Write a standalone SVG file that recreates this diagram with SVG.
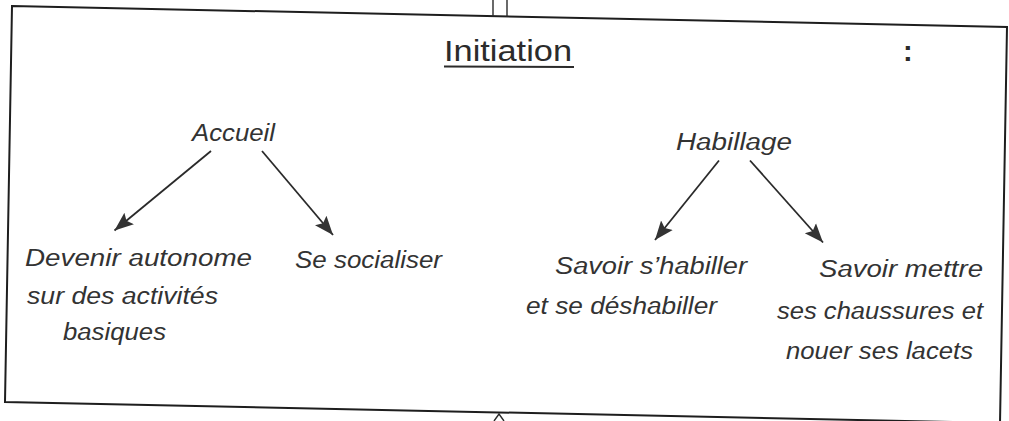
<svg xmlns="http://www.w3.org/2000/svg" width="1009" height="421" viewBox="0 0 1009 421">
  <defs>
    <style>
      .frame { fill: none; stroke: #1e1e1e; stroke-width: 2; stroke-linejoin: miter; }
      .tick { fill: none; stroke: #2a2a2a; stroke-width: 1.4; }
      .title { font-family: "Liberation Sans", Arial, sans-serif; font-size: 29px; fill: #2b2b2b; }
      .lbl { font-family: "Liberation Sans", Arial, sans-serif; font-style: italic; font-size: 23.5px; fill: #333333; }
      .conn { fill: none; stroke: #2a2a2a; stroke-width: 1.8; marker-end: url(#ah); }
    </style>
    <marker id="ah" markerUnits="userSpaceOnUse" markerWidth="20" markerHeight="18" refX="19" refY="9" orient="auto">
      <path d="M0,1.5 L19,9 L0,16.5 L3.5,9 Z" fill="#333"/>
    </marker>
  </defs>
  <rect width="1009" height="421" fill="#ffffff"/>

  <g id="frame">
    <polygon class="frame" points="12,6 1007,27 1000,423 5,402"/>
    <line class="tick" x1="493" y1="0" x2="493" y2="16.5"/>
    <line class="tick" x1="507" y1="0" x2="507" y2="16.8"/>
    <polyline class="tick" points="494,421 499,414 504,421"/>
  </g>

  <g id="title">
    <text class="title" x="444" y="61" textLength="128" lengthAdjust="spacingAndGlyphs">Initiation</text>
    <line x1="444" y1="66.5" x2="574" y2="67" stroke="#2b2b2b" stroke-width="2"/>
    <text class="title" x="903" y="61" font-weight="bold">:</text>
  </g>

  <g id="connectors">
    <line class="conn" x1="211" y1="151" x2="114.5" y2="230.5"/>
    <line class="conn" x1="262" y1="151" x2="333" y2="235"/>
    <line class="conn" x1="719" y1="160.5" x2="655" y2="240"/>
    <line class="conn" x1="750" y1="160.5" x2="823" y2="242.5"/>
  </g>

  <g id="node-accueil">
    <text class="lbl" x="192" y="140.5" textLength="83" lengthAdjust="spacingAndGlyphs">Accueil</text>
  </g>
  <g id="node-habillage">
    <text class="lbl" x="676" y="149.5" textLength="116" lengthAdjust="spacingAndGlyphs">Habillage</text>
  </g>
  <g id="node-autonome">
    <text class="lbl" x="25" y="266" textLength="227" lengthAdjust="spacingAndGlyphs">Devenir autonome</text>
    <text class="lbl" x="27" y="303.5" textLength="191" lengthAdjust="spacingAndGlyphs">sur des activités</text>
    <text class="lbl" x="63" y="340" textLength="103" lengthAdjust="spacingAndGlyphs">basiques</text>
  </g>
  <g id="node-socialiser">
    <text class="lbl" x="295" y="267.5" textLength="147" lengthAdjust="spacingAndGlyphs">Se socialiser</text>
  </g>
  <g id="node-habiller">
    <text class="lbl" x="555" y="273.5" textLength="192" lengthAdjust="spacingAndGlyphs">Savoir s’habiller</text>
    <text class="lbl" x="526" y="313.5" textLength="191" lengthAdjust="spacingAndGlyphs">et se déshabiller</text>
  </g>
  <g id="node-chaussures">
    <text class="lbl" x="819" y="276.5" textLength="164" lengthAdjust="spacingAndGlyphs">Savoir mettre</text>
    <text class="lbl" x="777" y="318.5" textLength="206" lengthAdjust="spacingAndGlyphs">ses chaussures et</text>
    <text class="lbl" x="786" y="358.5" textLength="187" lengthAdjust="spacingAndGlyphs">nouer ses lacets</text>
  </g>
</svg>
